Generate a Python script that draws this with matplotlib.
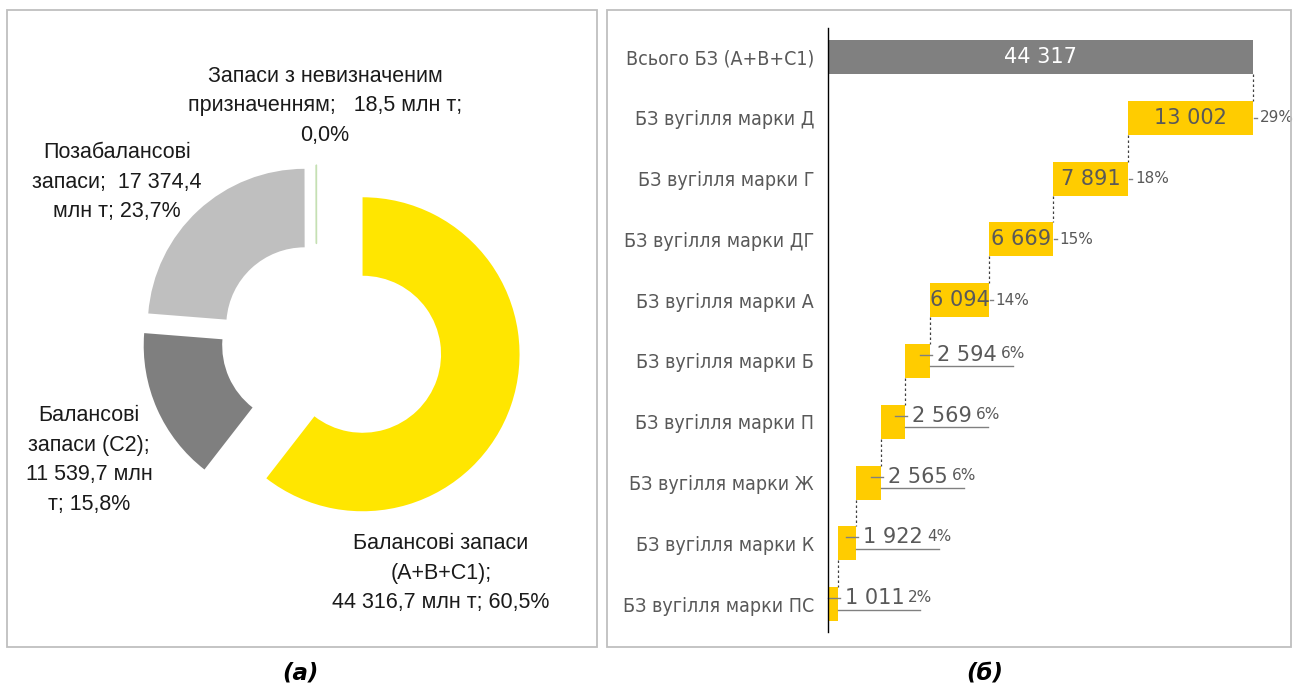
import matplotlib
matplotlib.use('Agg')
import matplotlib.pyplot as plt
from matplotlib.patches import Rectangle
import numpy as np

# ---------------- data ----------------
donut_labels = [
    "Балансові запаси\n(А+В+С1);\n44 316,7 млн т; 60,5%",
    "Балансові\nзапаси (С2);\n11 539,7 млн\nт; 15,8%",
    "Позабалансові\nзапаси;  17 374,4\nмлн т; 23,7%",
    "Запаси з невизначеним\nпризначенням;   18,5 млн т;\n0,0%",
]
donut_values = [44316.7, 11539.7, 17374.4, 18.5]
donut_colors = ['#FFE600', '#7F7F7F', '#BFBFBF', '#C5E0B3']
donut_explode = [0.31, 0.11, 0.11, 0.105]

wf_categories = [
    "Всього БЗ (А+В+С1)",
    "БЗ вугілля марки Д",
    "БЗ вугілля марки Г",
    "БЗ вугілля марки ДГ",
    "БЗ вугілля марки А",
    "БЗ вугілля марки Б",
    "БЗ вугілля марки П",
    "БЗ вугілля марки Ж",
    "БЗ вугілля марки К",
    "БЗ вугілля марки ПС",
]
wf_total = 44317
wf_values = [13002, 7891, 6669, 6094, 2594, 2569, 2565, 1922, 1011]

captions = ["(а)", "(б)"]

# ---------------- figure ----------------
W, H = 1293, 686
fig = plt.figure(figsize=(W / 100, H / 100), dpi=100)
fig.patch.set_facecolor('white')


def fx(px):
    return px / W


def fy(py):
    return 1 - py / H


# panel frames
for (x0, y0, x1, y1) in [(7, 10, 597, 647), (607, 10, 1291, 647)]:
    fig.add_artist(Rectangle((fx(x0), fy(y1)), (x1 - x0) / W, (y1 - y0) / H,
                             transform=fig.transFigure, fill=False,
                             edgecolor='#BFBFBF', lw=1.3))

# ---------------- donut ----------------
R = 157.0
cx, cy = 316.5, 338.5
ax1 = fig.add_axes([0, 0, 600 / W, 1])
wedges, _ = ax1.pie(donut_values, colors=donut_colors, explode=donut_explode,
                    startangle=90, counterclock=False,
                    wedgeprops=dict(width=0.5, edgecolor='none'))
wedges[3].set_edgecolor(donut_colors[3])
wedges[3].set_linewidth(1.0)
ax1.set_aspect('auto')
ax1.set_xlim(-cx / R, (600 - cx) / R)
ax1.set_ylim(-(H - cy) / R, cy / R)
ax1.axis('off')

label_pos = [(441, 573), (89, 460), (117, 182), (325, 106)]
for txt, (px, py) in zip(donut_labels, label_pos):
    fig.text(fx(px), fy(py), txt, ha='center', va='center', multialignment='center',
             fontsize=15.5, family='Liberation Sans', color='#1a1a1a', linespacing=1.55)

# ---------------- waterfall ----------------
x_left, x_right = 828, 1253
y_top, y_bot = 28, 632
row0, step = 57, 60.8
ax2 = fig.add_axes([fx(x_left), fy(y_bot), (x_right - x_left) / W, (y_bot - y_top) / H])
ax2.set_xlim(0, wf_total)
ax2.set_ylim((y_bot - row0) / step, (y_top - row0) / step)

bh = 0.56
values = np.array(wf_values)
ends = wf_total - np.concatenate([[0], np.cumsum(values)[:-1]])
starts = ends - values
ypos = np.arange(1, len(values) + 1)

ax2.barh(0, wf_total, left=0, height=bh, color='#808080')
ax2.barh(ypos, values, left=starts, height=bh, color='#FFCC00')

for s in ['top', 'right', 'bottom']:
    ax2.spines[s].set_visible(False)
ax2.spines['left'].set_color('black')
ax2.spines['left'].set_linewidth(1.0)
ax2.set_xticks([])
ax2.set_yticks(range(len(wf_categories)))
ax2.set_yticklabels(wf_categories)
ax2.tick_params(axis='y', length=0, pad=10, labelsize=14, labelcolor='#595959')
for t in ax2.get_yticklabels():
    t.set_family('DejaVu Sans')
    t.set_fontstretch('condensed')

pxx = wf_total / (x_right - x_left)   # data units per pixel (x)
pxy = 1 / step                        # data units per pixel (y)
lab_col = '#595959'
line_col = '#808080'

# connectors
conn_x = [wf_total] + list(starts[:-1])
for i, xc in enumerate(conn_x):
    ax2.plot([xc, xc], [i + bh / 2, i + 1 - bh / 2], color='#404040', lw=0.9,
             linestyle=(0, (2, 2)), clip_on=False)

# total label
ax2.text(wf_total / 2, 0, f"{wf_total:,}".replace(",", " "), ha='center', va='center',
         color='white', fontsize=15, family='DejaVu Sans')

pct_texts = []
for k, (v, s, e, y) in enumerate(zip(values, starts, ends, ypos)):
    vs = f"{v:,}".replace(",", " ")
    ps = f"{round(v / wf_total * 100)}%"
    if v >= 6000:
        ax2.text((s + e) / 2, y, vs, ha='center', va='center', color=lab_col,
                 fontsize=15, family='DejaVu Sans')
        ax2.plot([e + 1 * pxx, e + 4 * pxx], [y, y], color=line_col, lw=1, clip_on=False)
        ax2.annotate(ps, xy=(e, y), xytext=(7, 0), textcoords='offset pixels',
                     ha='left', va='center', color=lab_col, fontsize=11,
                     family='DejaVu Sans', annotation_clip=False)
    else:
        yl = y - 6 * pxy
        vt = ax2.annotate(vs, xy=(e, yl), xytext=(7, 0), textcoords='offset pixels',
                          ha='left', va='center', color=lab_col, fontsize=15,
                          family='DejaVu Sans', annotation_clip=False)
        pt = ax2.annotate(ps, xy=(1, 0.5), xycoords=vt, xytext=(4, 1),
                          textcoords='offset pixels', ha='left', va='center',
                          color=lab_col, fontsize=11, family='DejaVu Sans',
                          annotation_clip=False)
        ax2.plot([e - 10 * pxx, e + 2 * pxx], [yl, yl], color=line_col, lw=1, clip_on=False)
        pct_texts.append((pt, e, y + 5.5 * pxy))

fig.canvas.draw()
renderer = fig.canvas.get_renderer()
inv = ax2.transData.inverted()
for pt, e, yu in pct_texts:
    bb = pt.get_window_extent(renderer)
    xend = inv.transform(((bb.x0 + bb.x1) / 2, bb.y0))[0]
    ax2.plot([e, xend], [yu, yu], color=line_col, lw=1, clip_on=False)

# captions
for txt, px in zip(captions, [300, 985]):
    fig.text(fx(px), fy(673), txt, ha='center', va='center', fontsize=16.5,
             style='italic', weight='bold', family='DejaVu Sans', color='black')

fig.savefig('out.png', dpi=100, facecolor='white')
